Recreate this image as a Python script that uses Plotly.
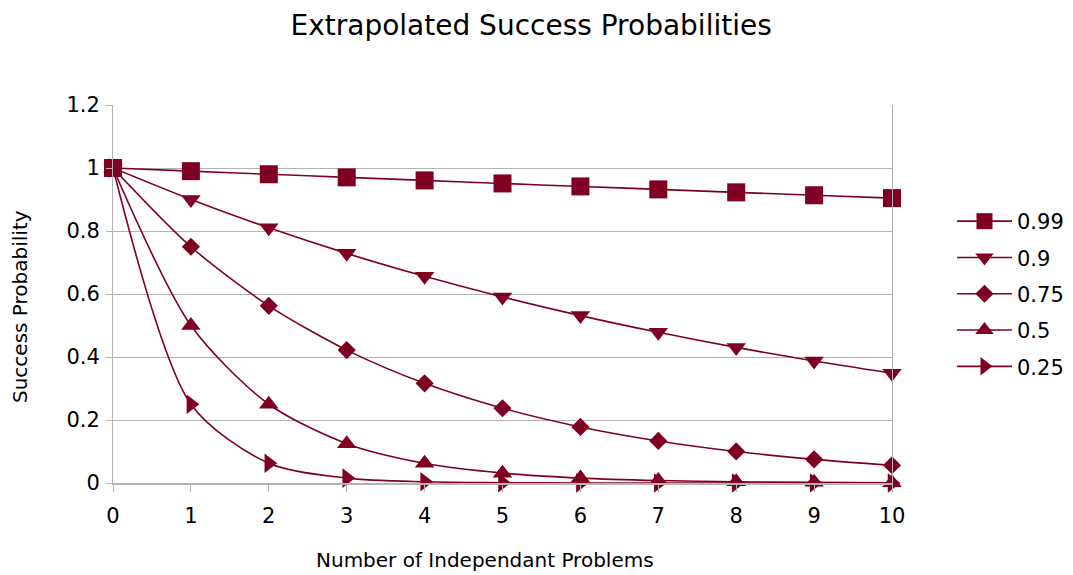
import plotly.graph_objects as go

# Number of independent problems
problems = [0, 1, 2, 3, 4, 5, 6, 7, 8, 9, 10]

# Per-problem success rates and the resulting overall success probability
series_names = ["0.99", "0.9", "0.75", "0.5", "0.25"]
p099 = [1.0, 0.99, 0.9801, 0.9703, 0.9606, 0.951, 0.9415, 0.9321, 0.9227, 0.9135, 0.9044]
p090 = [1.0, 0.9, 0.81, 0.729, 0.6561, 0.5905, 0.5314, 0.4783, 0.4305, 0.3874, 0.3487]
p075 = [1.0, 0.75, 0.5625, 0.4219, 0.3164, 0.2373, 0.178, 0.1335, 0.1001, 0.0751, 0.0563]
p050 = [1.0, 0.5, 0.25, 0.125, 0.0625, 0.0313, 0.0156, 0.0078, 0.0039, 0.002, 0.001]
p025 = [1.0, 0.25, 0.0625, 0.0156, 0.0039, 0.001, 0.0002, 0.0001, 0.0, 0.0, 0.0]
series_values = [p099, p090, p075, p050, p025]

symbols = ["square", "triangle-down", "diamond", "triangle-up", "triangle-right"]
sizes = [18, 17, 14, 17, 17]
color = "#7f0022"
axis_grey = "#b3b3b3"

fig = go.Figure()
for name, vals, sym, sz in zip(series_names, series_values, symbols, sizes):
    fig.add_trace(go.Scatter(
        x=problems, y=vals, name=name, legendgroup=name,
        mode="lines+markers",
        line=dict(color=color, width=1.6, shape="spline", smoothing=0.8),
        marker=dict(symbol=sym, size=sz, color=color),
        cliponaxis=False,
    ))

font_family = "DejaVu Sans, Verdana, sans-serif"
fig.update_layout(
    width=1073, height=575,
    paper_bgcolor="white", plot_bgcolor="white",
    margin=dict(l=113, r=181, t=105, b=92, autoexpand=False),
    font=dict(family=font_family, color="black"),
    title=dict(text="Extrapolated Success Probabilities", x=0.495, xanchor="center",
               y=0.957, yanchor="middle", font=dict(size=28, family=font_family)),
    xaxis=dict(
        range=[0, 10], tickmode="array", tickvals=problems,
        ticks="outside", ticklen=7, tickcolor=axis_grey,
        showgrid=False, zeroline=False,
        showline=True, linecolor=axis_grey, linewidth=2,
        tickfont=dict(size=21), ticklabelstandoff=6,
    ),
    yaxis=dict(
        range=[0, 1.2], dtick=0.2,
        ticks="outside", ticklen=6, tickcolor=axis_grey,
        showgrid=True, gridcolor=axis_grey, gridwidth=1,
        zeroline=False,
        showline=True, linecolor=axis_grey, linewidth=1, mirror=True,
        tickfont=dict(size=21), ticklabelstandoff=2,
    ),
    legend=dict(x=1.077, y=0.5, xanchor="left", yanchor="middle",
                font=dict(size=21), tracegroupgap=6, itemwidth=55),
    annotations=[
        dict(text="Number of Independant Problems", xref="paper", yref="paper",
             x=(485 - 113) / 779, y=-(560 - 483) / 378, xanchor="center", yanchor="middle",
             showarrow=False, font=dict(size=20)),
        dict(text="Success Probability", xref="paper", yref="paper",
             x=-(113 - 20) / 779, y=(483 - 307) / 378, xanchor="center", yanchor="middle",
             textangle=-90, showarrow=False, font=dict(size=20)),
    ],
)

fig.write_html("out.html")
